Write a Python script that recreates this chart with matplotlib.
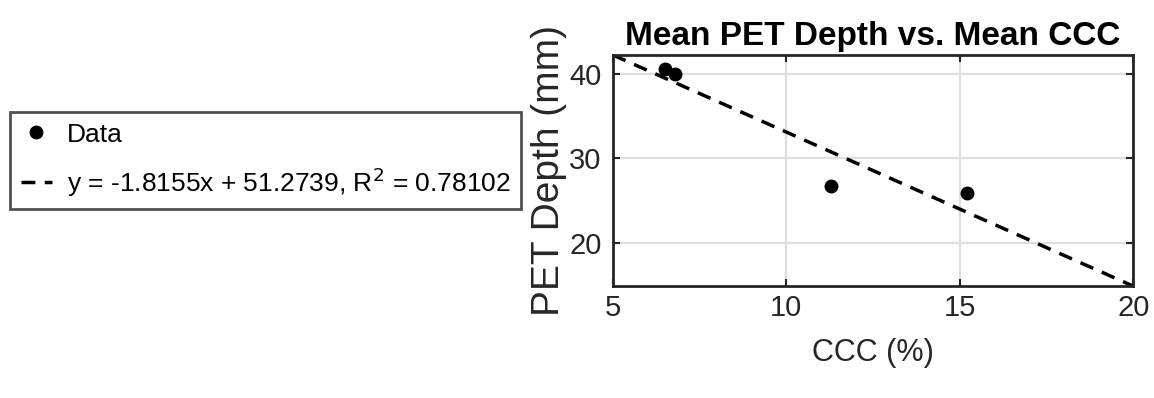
import numpy as np
import matplotlib
matplotlib.use("Agg")
import matplotlib.pyplot as plt

plt.rcParams['font.family'] = ['Liberation Sans', 'DejaVu Sans']

ccc = [6.5, 6.8, 11.3, 15.2]
pet_depth = [40.6, 40.0, 26.8, 25.9]
slope = -1.8155
intercept = 51.2739
r2 = 0.78102
xticks = [5, 10, 15, 20]
yticks = [20, 30, 40]

fig = plt.figure(figsize=(11.54, 3.98), dpi=100)
ax = fig.add_axes([0.531, 0.281, 0.451, 0.581])

ax.grid(True, color='#dedede', linewidth=1.6)
ax.set_axisbelow(True)

pts, = ax.plot(ccc, pet_depth, 'o', color='black', markersize=9, label='Data')
xfit = np.array([5, 20])
fit, = ax.plot(xfit, slope * xfit + intercept, '--', color='black', linewidth=2.5,
               dashes=(4, 2.7),
               label='y = %.4fx + %.4f, R$^2$ = %.5f' % (slope, intercept, r2))

ax.set_xlim(5, 20)
ax.set_ylim(14.96, 42.2)
ax.set_xticks(xticks)
ax.set_yticks(yticks)
ax.tick_params(direction='in', top=True, right=True, length=5, width=1.5,
               labelsize=21, colors='#262626', labelcolor='#262626')
ax.tick_params(axis='x', pad=6)
ax.tick_params(axis='y', pad=8)
for s in ax.spines.values():
    s.set_linewidth(2)
    s.set_color('#262626')

ax.set_xlabel('CCC (%)', fontsize=22, color='#262626', labelpad=11)
ax.set_ylabel('PET Depth (mm)', fontsize=28, color='#262626', labelpad=2)
ax.set_title('Mean PET Depth vs. Mean CCC', fontsize=24, fontweight='bold', pad=7)

leg = fig.legend(handles=[pts, fit], loc='upper left', bbox_to_anchor=(0.0087, 0.7186),
                 borderaxespad=0, fontsize=19, frameon=True, fancybox=False,
                 edgecolor='#262626', handlelength=1.2, handletextpad=0.55,
                 borderpad=0.4, labelspacing=0.7)
leg.get_frame().set_linewidth(2)

fig.savefig('out.png', dpi=100)
